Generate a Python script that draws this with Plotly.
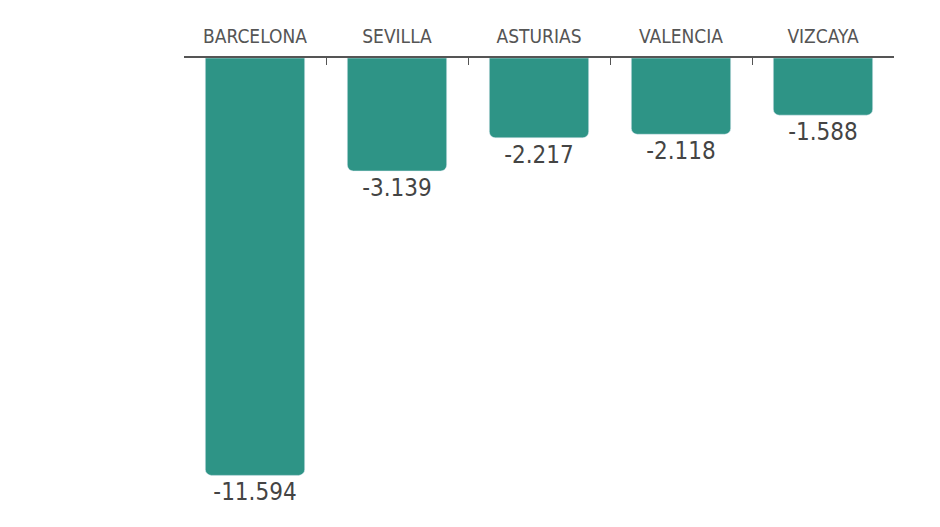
import plotly.graph_objects as go

provinces = ["BARCELONA", "SEVILLA", "ASTURIAS", "VALENCIA", "VIZCAYA"]
values = [-11.594, -3.139, -2.217, -2.118, -1.588]
labels = ["-11.594", "-3.139", "-2.217", "-2.118", "-1.588"]

font = "DejaVu Sans Condensed, Liberation Sans Narrow, Liberation Sans"
fig = go.Figure(go.Bar(
    x=provinces, y=values, text=labels, textposition="outside",
    marker=dict(color="#2e9486", cornerradius=6),
    textfont=dict(family=font, size=24, color="#444"),
    cliponaxis=False,
))
fig.update_layout(
    width=940, height=527, margin=dict(l=176, r=54, t=50, b=0),
    paper_bgcolor="white", plot_bgcolor="white", bargap=0.3, showlegend=False,
    xaxis=dict(side="top", showline=True, linecolor="#555", linewidth=1.5,
               ticks="inside", tickson="boundaries", ticklen=7, tickcolor="#555",
               tickangle=0, automargin=False, ticklabelstandoff=6,
               tickfont=dict(family=font, size=19, color="#555")),
    yaxis=dict(range=[-13.25, 0], visible=False),
)
fig.write_html("out.html")
